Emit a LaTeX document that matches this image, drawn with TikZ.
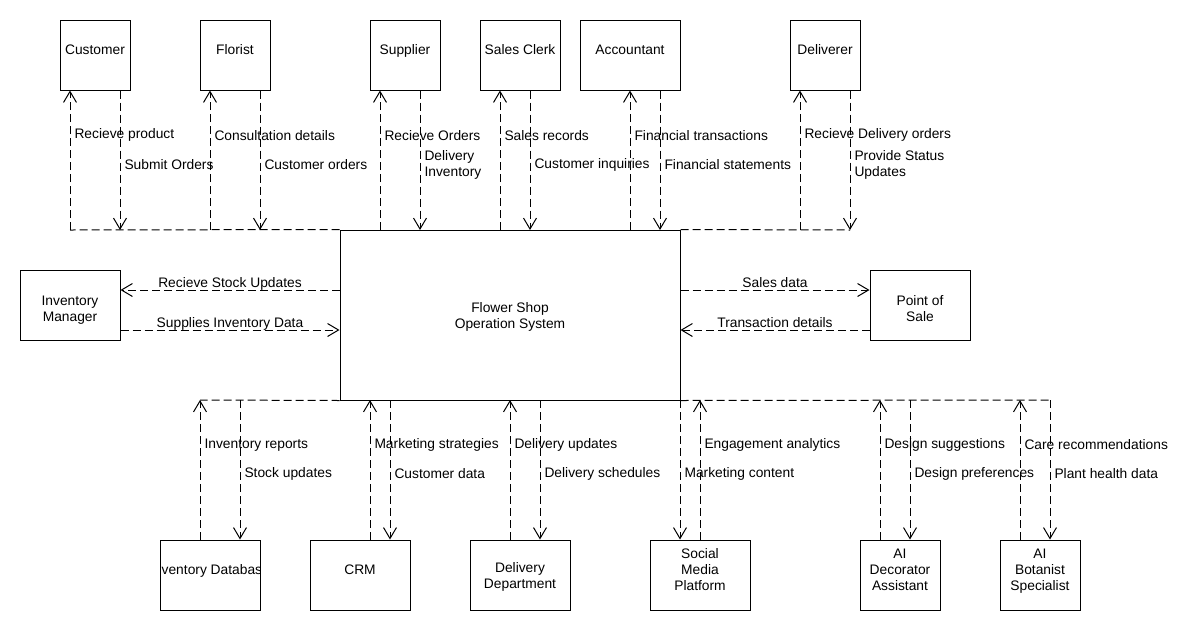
\documentclass[tikz,border=0pt]{standalone}
\usepackage{fontspec}
\setmainfont{Liberation Sans}
\usetikzlibrary{arrows.meta}

\begin{document}
\begin{tikzpicture}[x=1pt,y=-1pt,line width=1pt,
    font=\fontsize{13.8pt}{16pt}\selectfont]
    \tikzstyle{box} = [rectangle, draw, fill=white,
    minimum width=70pt, minimum height=70pt, inner sep=0pt,
    align=center, text depth=11pt];
    \tikzstyle{two} = [text depth=0pt];
    \tikzstyle{bus} = [black, dash pattern=on 8pt off 4pt];
    \tikzstyle{flow} = [bus, -{Straight Barb[length=11pt,width=13pt]}];
    \tikzstyle{lbl} = [right=2pt, inner sep=2pt, align=left, yshift=-1.5pt];
    \tikzstyle{hl} = [above, inner sep=1pt, text depth=1pt];

    \useasboundingbox (0,0) rectangle (1200,630);

    % actors on top
    \node[box] (cust) at (95,55) {Customer};
    \node[box] (flor) at (235,55) {Florist};
    \node[box] (supp) at (405,55) {Supplier};
    \node[box, minimum width=80pt] (clerk) at (520,55) {Sales Clerk};
    \node[box, minimum width=100pt] (acct) at (630,55) {Accountant};
    \node[box] (deliv) at (825,55) {Deliverer};

    % system and side actors
    \node[box, two, minimum width=340pt, minimum height=170pt] (sys)
        at (510,315) {Flower Shop\\Operation System};
    \node[box, two, text height=32pt, minimum width=100pt] (invm)
        at (70,305) {Inventory\\Manager};
    \node[box, two, text height=32pt, minimum width=100pt] (pos)
        at (920,305) {Point of\\Sale};

    % systems below
    \node[box, minimum width=100pt, path picture={
        \node[text depth=11pt] (invdbtext) at (path picture bounding box.center)
            {Inventory Database};}] (invdb) at (210,575) {};
    \node[box, minimum width=100pt] (crm) at (360,575) {CRM};
    \node[box, two, minimum width=100pt] (deldep) at (520,575) {Delivery\\Department};
    \node[box, minimum width=100pt] (social) at (700,575) {Social\\Media\\Platform};
    \node[box, minimum width=80pt] (deco) at (900,575) {AI\\Decorator\\Assistant};
    \node[box, minimum width=80pt] (bot) at (1040,575) {AI\\Botanist\\Specialist};

    % points on the top bus
    \coordinate (cu-in) at (70,230);   \coordinate (cu-out) at (120,230);
    \coordinate (fl-in) at (210,230);  \coordinate (fl-out) at (260,230);
    \coordinate (su-in) at (380,230);  \coordinate (su-out) at (420,230);
    \coordinate (sc-in) at (500,230);  \coordinate (sc-out) at (530,230);
    \coordinate (ac-in) at (630,230);  \coordinate (ac-out) at (660,230);
    \coordinate (dv-in) at (800,230);  \coordinate (dv-out) at (850,230);

    % points on the bottom bus
    \coordinate (db-out) at (200,400); \coordinate (db-in) at (240,400);
    \coordinate (cr-out) at (370,400); \coordinate (cr-in) at (390,400);
    \coordinate (dd-out) at (510,400); \coordinate (dd-in) at (540,400);
    \coordinate (so-in) at (680,400);  \coordinate (so-out) at (700,400);
    \coordinate (de-out) at (880,400); \coordinate (de-in) at (910,400);
    \coordinate (bo-out) at (1020,400); \coordinate (bo-in) at (1050,400);

    % rows for the side flows
    \coordinate (r1) at (0,290);
    \coordinate (r2) at (0,330);

    % buses
    \draw[bus] (sys.north west) -- (cu-in);
    \draw[bus] (sys.north east) -- (dv-out);
    \draw[bus] (sys.south west) -- (db-out);
    \draw[bus] (sys.south east) -- (bo-in);

    % top flows
    \draw[flow] (cu-in) -- node[lbl, pos=0.69] {Recieve product} (cust.south -| cu-in);
    \draw[flow] (cust.south -| cu-out) -- node[lbl, pos=0.52] {Submit Orders} (cu-out);
    \draw[flow] (fl-in) -- node[lbl, pos=0.69] {Consultation details} (flor.south -| fl-in);
    \draw[flow] (flor.south -| fl-out) -- node[lbl, pos=0.52] {Customer orders} (fl-out);
    \draw[flow] (su-in) -- node[lbl, pos=0.69] {Recieve Orders} (supp.south -| su-in);
    \draw[flow] (supp.south -| su-out) -- node[lbl, pos=0.52] {Delivery\\Inventory} (su-out);
    \draw[flow] (sc-in) -- node[lbl, pos=0.69] {Sales records} (clerk.south -| sc-in);
    \draw[flow] (clerk.south -| sc-out) -- node[lbl, pos=0.52] {Customer inquiries} (sc-out);
    \draw[flow] (ac-in) -- node[lbl, pos=0.69] {Financial transactions} (acct.south -| ac-in);
    \draw[flow] (acct.south -| ac-out) -- node[lbl, pos=0.52] {Financial statements} (ac-out);
    \draw[flow] (dv-in) -- node[lbl, pos=0.69] {Recieve Delivery orders} (deliv.south -| dv-in);
    \draw[flow] (deliv.south -| dv-out) -- node[lbl, pos=0.52] {Provide Status\\Updates} (dv-out);

    % side flows
    \draw[flow] (sys.west |- r1) -- node[hl] {Recieve Stock Updates} (invm.east |- r1);
    \draw[flow] (invm.east |- r2) -- node[hl] {Supplies Inventory Data} (sys.west |- r2);
    \draw[flow] (sys.east |- r1) -- node[hl] {Sales data} (pos.west |- r1);
    \draw[flow] (pos.west |- r2) -- node[hl] {Transaction details} (sys.east |- r2);

    % bottom flows
    \draw[flow] (invdb.north -| db-out) -- node[lbl, pos=0.69] {Inventory reports} (db-out);
    \draw[flow] (db-in) -- node[lbl, pos=0.52] {Stock updates} (invdb.north -| db-in);
    \draw[flow] (crm.north -| cr-out) -- node[lbl, pos=0.69] {Marketing strategies} (cr-out);
    \draw[flow] (cr-in) -- node[lbl, pos=0.52] {Customer data} (crm.north -| cr-in);
    \draw[flow] (deldep.north -| dd-out) -- node[lbl, pos=0.69] {Delivery updates} (dd-out);
    \draw[flow] (dd-in) -- node[lbl, pos=0.52] {Delivery schedules} (deldep.north -| dd-in);
    \draw[flow] (so-in) -- node[lbl, pos=0.52] {Marketing content} (social.north -| so-in);
    \draw[flow] (social.north -| so-out) -- node[lbl, pos=0.69] {Engagement analytics} (so-out);
    \draw[flow] (deco.north -| de-out) -- node[lbl, pos=0.69] {Design suggestions} (de-out);
    \draw[flow] (de-in) -- node[lbl, pos=0.52] {Design preferences} (deco.north -| de-in);
    \draw[flow] (bot.north -| bo-out) -- node[lbl, pos=0.69] {Care recommendations} (bo-out);
    \draw[flow] (bo-in) -- node[lbl, pos=0.52] {Plant health data} (bot.north -| bo-in);

\end{tikzpicture}
\end{document}
